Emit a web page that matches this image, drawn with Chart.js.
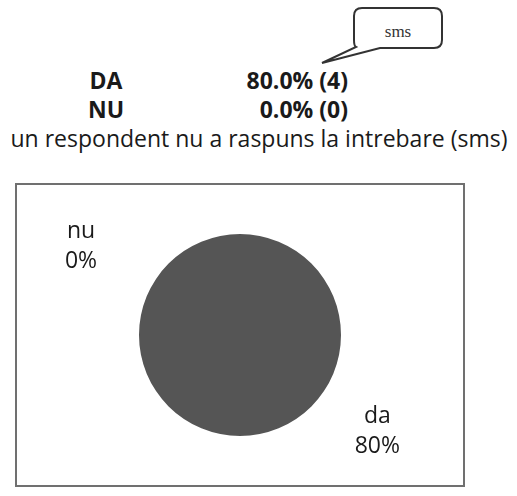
<!DOCTYPE html>
<html>
<head>
<meta charset="utf-8">
<script src="https://cdn.jsdelivr.net/npm/chart.js@4/dist/chart.umd.min.js"></script>
<style>
  html, body { margin: 0; padding: 0; background: #fff; }
  body { width: 517px; height: 496px; position: relative; overflow: hidden; font-family: "Open Sans", sans-serif; color: #1a1a1a; }
  .row { position: absolute; font-weight: bold; font-size: 23px; line-height: 28px; white-space: nowrap; }
  .lab { left: 80px; width: 52px; text-align: center; }
  .val { left: 180px; width: 168px; text-align: right; }
  #note { position: absolute; left: 0; width: 518px; top: 123px; text-align: center; font-size: 23px; line-height: 30px; white-space: nowrap; }
  #box { position: absolute; left: 15px; top: 183px; width: 446px; height: 300px; border: 2px solid #707070; }
  #box canvas { display: block; }
  #callout { position: absolute; left: 0; top: 0; }
</style>
</head>
<body>
<svg id="callout" width="517" height="70">
  <path d="M362 8 H434 Q442 8 442 16 V40 Q442 48 434 48 H380 L322 63 L356 47 Q354 46 354 40 V16 Q354 8 362 8 Z" fill="#fff" stroke="#333" stroke-width="2"/>
  <text x="398" y="37" text-anchor="middle" font-family="Liberation Serif, serif" font-size="17" fill="#333">sms</text>
</svg>
<div id="summary"></div>
<div id="note"></div>
<div id="box"><canvas id="c" width="446" height="300"></canvas></div>
<script>
const categories = ['da', 'nu'];
const counts = [4, 0];
const percentages = [80, 0];
const summaryLabels = ['DA', 'NU'];
const summaryValues = ['80.0% (4)', '0.0% (0)'];
const noteText = 'un respondent nu a raspuns la intrebare (sms)';

const summary = document.getElementById('summary');
summaryLabels.forEach((t, i) => {
  const top = 66 + i * 29;
  const a = document.createElement('div');
  a.className = 'row lab'; a.style.top = top + 'px'; a.textContent = t;
  const b = document.createElement('div');
  b.className = 'row val'; b.style.top = top + 'px'; b.textContent = summaryValues[i];
  summary.appendChild(a); summary.appendChild(b);
});
document.getElementById('note').textContent = noteText;

const outsideLabels = {
  id: 'outsideLabels',
  afterDatasetsDraw(chart, args, opts) {
    const ctx = chart.ctx;
    const meta = chart.getDatasetMeta(0);
    const arc = meta.data[0];
    const cx = arc.x, cy = arc.y, r = arc.outerRadius;
    ctx.save();
    ctx.fillStyle = '#1a1a1a';
    ctx.font = '23px "Open Sans", sans-serif';
    ctx.textAlign = 'center';
    ctx.textBaseline = 'middle';
    opts.placements.forEach((p, i) => {
      const ang = p.angle * Math.PI / 180;
      const x = cx + Math.cos(ang) * r * p.dist;
      const y = cy + Math.sin(ang) * r * p.dist;
      ctx.fillText(chart.data.labels[i], x, y - 15);
      ctx.fillText(percentages[i] + '%', x, y + 15);
    });
    ctx.restore();
  }
};

new Chart(document.getElementById('c'), {
  type: 'pie',
  data: {
    labels: categories,
    datasets: [{
      data: counts,
      backgroundColor: ['#555555', '#9a9a9a'],
      borderWidth: 0
    }]
  },
  options: {
    responsive: false,
    animation: false,
    layout: { padding: { top: 49, bottom: 49, left: 0, right: 0 } },
    plugins: {
      legend: { display: false },
      tooltip: { enabled: false },
      outsideLabels: {
        placements: [
          { angle: 35, dist: 1.66 },
          { angle: 209, dist: 1.80 }
        ]
      }
    }
  },
  plugins: [outsideLabels]
});
</script>
</body>
</html>
